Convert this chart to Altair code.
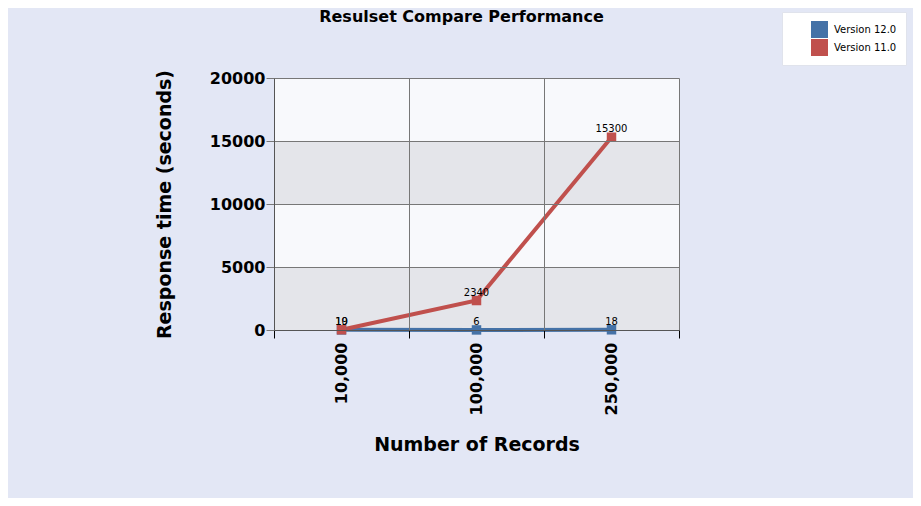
import altair as alt
import pandas as pd

records = ["10,000", "100,000", "250,000"]
series = ["Version 12.0", "Version 11.0"]
v12 = [10, 6, 18]
v11 = [19, 2340, 15300]
colors = ["#4572a7", "#c0504d"]

band_lo = [0, 5000, 10000, 15000]
band_hi = [5000, 10000, 15000, 20000]
band_fill = ["#e4e5ea", "#f8f9fc", "#e4e5ea", "#f8f9fc"]
y_ticks = [0, 5000, 10000, 15000, 20000]

rows = []
for s, vals in zip(series, [v12, v11]):
    for r, v in zip(records, vals):
        rows.append({"records": r, "version": s, "time": v})
df = pd.DataFrame(rows)
bands = pd.DataFrame({"lo": band_lo, "hi": band_hi, "fill": band_fill})

FONT = "DejaVu Sans"

x_axis = alt.Axis(
    title="Number of Records", labelAngle=270, labelAlign="right", labelBaseline="middle",
    labelFont=FONT, labelFontSize=16, labelFontWeight="bold", labelColor="#000",
    titleFont=FONT, titleFontSize=19, titleFontWeight="bold", titleColor="#000",
    titlePadding=21, tickBand="extent", grid=True, gridColor="#777", tickColor="#000",
    domainColor="#555", tickSize=8, labelPadding=4, zindex=1,
)
y_axis = alt.Axis(
    title="Response time (seconds)", values=y_ticks, format="d",
    labelFont=FONT, labelFontSize=16, labelFontWeight="bold", labelColor="#000",
    titleFont=FONT, titleFontSize=19, titleFontWeight="bold", titleColor="#000",
    titlePadding=35, grid=True, gridColor="#777", tickColor="#777", domainColor="#555",
    tickSize=8, labelPadding=1, zindex=1,
)
y_scale = alt.Scale(domain=[0, 20000], nice=False)

x_enc = alt.X(
    "records:N", sort=records,
    scale=alt.Scale(type="band", domain=records, paddingInner=0, paddingOuter=0),
    axis=x_axis,
)
y_enc = alt.Y("time:Q", scale=y_scale, axis=y_axis)
color_enc = alt.Color(
    "version:N", sort=series,
    scale=alt.Scale(domain=series, range=colors),
    legend=alt.Legend(
        title=None, orient="none", legendX=508, legendY=-66,
        fillColor="#ffffff", strokeColor="#e0e3ec", padding=9,
        symbolType="square", symbolSize=289, symbolStrokeWidth=0, symbolOpacity=1,
        labelFont=FONT, labelFontSize=10, labelColor="#000", rowPadding=1,
        symbolOffset=20, labelOffset=6,
    ),
)

bg = alt.Chart(bands).mark_rect().encode(
    y=alt.Y("lo:Q", scale=y_scale, axis=y_axis),
    y2="hi:Q",
    fill=alt.Fill("fill:N", scale=None),
)

base = alt.Chart(df).encode(x=x_enc, y=y_enc, color=color_enc)

lines = base.mark_line(strokeWidth=4)
points = base.mark_point(shape="square", filled=True, size=90, opacity=1)
labels = alt.Chart(df).mark_text(dy=-8, fontSize=10, font=FONT, color="#000").encode(
    x=alt.X("records:N", sort=records), y="time:Q", text="time:Q"
)

chart = alt.layer(bg, lines, points, labels).properties(
    width=405, height=252,
    title=alt.TitleParams(
        "Resulset Compare Performance", font=FONT, fontSize=16, fontWeight="bold",
        color="#000", anchor="middle", dx=-15, offset=0, dy=13,
    ),
    autosize=alt.AutoSizeParams(type="none"),
    padding={"left": 266, "top": 70, "right": 234, "bottom": 168},
).configure(background="#e3e7f5").configure_view(stroke=None)

chart.save("out.html", embed_options={"renderer": "svg", "actions": False})
